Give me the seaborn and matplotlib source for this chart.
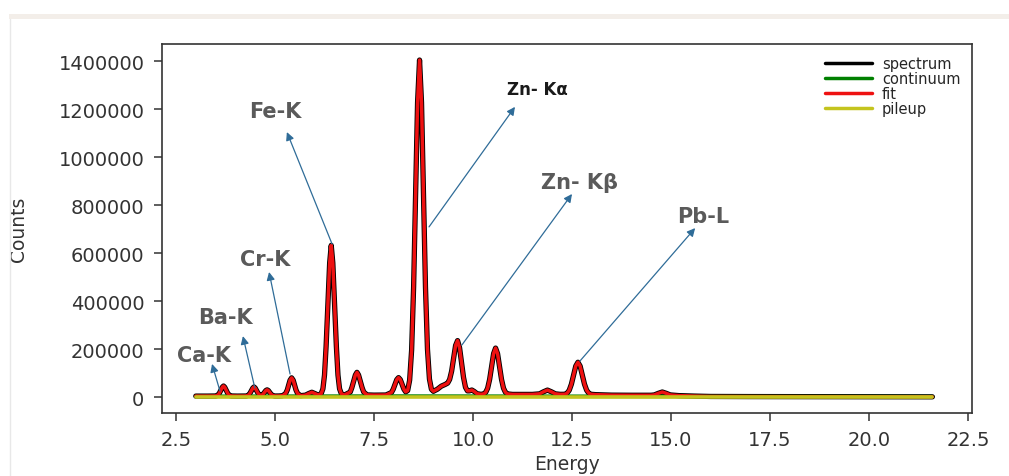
import matplotlib
matplotlib.use("Agg")
import matplotlib.pyplot as plt
import seaborn as sns
from matplotlib.patches import Rectangle
from matplotlib.lines import Line2D
from matplotlib.ticker import MultipleLocator

# spectrum / fit (keV, counts)
energy = [
    3.00, 3.30, 3.51, 3.57, 3.60, 3.635, 3.67, 3.70, 3.73, 3.765, 3.80, 3.83, 3.89,
    4.05, 4.275, 4.34, 4.37, 4.405, 4.44, 4.47, 4.50, 4.535, 4.57, 4.60, 4.64,
    4.67, 4.70, 4.735, 4.77, 4.80, 4.83, 4.865, 4.90, 4.93, 4.995,
    5.10, 5.195, 5.27, 5.31, 5.345, 5.38, 5.42, 5.46, 5.495, 5.53, 5.57, 5.645,
    5.77, 5.85, 5.93, 6.01, 6.09,
    6.165, 6.21, 6.25, 6.29, 6.335, 6.38, 6.42, 6.46, 6.505, 6.55, 6.59, 6.63, 6.675, 6.75,
    6.90, 6.94, 6.985, 7.03, 7.07, 7.11, 7.155, 7.20, 7.24, 7.325, 7.50, 7.80,
    7.94, 7.985, 8.03, 8.075, 8.12, 8.165, 8.21, 8.255, 8.30, 8.35,
    8.40, 8.45, 8.50, 8.55, 8.60, 8.65, 8.70, 8.75, 8.80, 8.85, 8.90, 8.95, 9.00,
    9.10, 9.20, 9.30, 9.36, 9.41, 9.46, 9.51, 9.56, 9.61, 9.66, 9.71, 9.76, 9.81,
    9.86, 9.91, 9.97, 10.03, 10.10, 10.20,
    10.27, 10.32, 10.37, 10.42, 10.47, 10.52, 10.57, 10.62, 10.67, 10.72, 10.77, 10.82, 10.87,
    11.00, 11.50, 11.68, 11.78, 11.88, 11.98, 12.08, 12.20,
    12.32, 12.375, 12.43, 12.485, 12.54, 12.595, 12.65, 12.705, 12.76, 12.815, 12.87, 12.925, 12.98,
    13.10, 13.50, 14.00, 14.50, 14.58, 14.68, 14.78, 14.88, 14.98,
    15.20, 15.60, 16.00, 17.00, 19.00, 21.60,
]
fit_counts = [
    5000, 5000, 5500, 10700, 18600, 30500, 42000, 47000, 42000, 30500, 18600, 10700, 5500,
    5000, 5400, 10100, 17300, 28000, 38500, 43000, 38500, 28000, 17300, 10300, 7600,
    8800, 13000, 20800, 28300, 31000, 28300, 20800, 13000, 8500, 5300,
    5500, 6800, 16150, 30400, 51500, 71000, 81000, 71000, 51500, 30400, 16150, 6800,
    8900, 15500, 21000, 15500, 9200,
    14900, 35400, 92600, 211000, 387000, 559500, 633000, 559500, 387000, 211000, 92600, 35400, 14900, 9000,
    21900, 39800, 66600, 92800, 104000, 92800, 66600, 39800, 21900, 10000, 9000, 9500,
    19700, 33400, 53700, 73500, 82000, 73500, 53800, 34000, 22700, 28000,
    71300, 196700, 458100, 847000, 1227900, 1405000, 1228000, 847000, 458000, 200500, 76000, 33300, 25000,
    33700, 46400, 53800, 59200, 74300, 108700, 162600, 215800, 236100, 207100, 145400, 83300, 41800,
    26700, 26800, 30300, 24400, 15200, 12300,
    14100, 20300, 38000, 74500, 129000, 182000, 205000, 182000, 129000, 74500, 38000, 20400, 14100,
    12000, 12000, 14400, 22900, 30000, 22900, 14400, 12300,
    12500, 16900, 29300, 54800, 92900, 130100, 146000, 130100, 92900, 54800, 29300, 16900, 12500,
    11000, 9000, 8500, 8500, 9900, 16500, 22000, 16500, 9900,
    7000, 5000, 3500, 3000, 2500, 2000,
]
spectrum_counts = fit_counts

bg_energy = [3.0, 5.0, 8.0, 11.0, 14.0, 17.0, 21.6]
continuum_counts = [4000, 4500, 5000, 4500, 4000, 3000, 2500]
pileup_counts = [1500, 1500, 1500, 1500, 1500, 1500, 1500]

peak_labels = ["Ca-K", "Ba-K", "Cr-K", "Fe-K", "Zn- K\u03b1", "Zn- K\u03b2", "Pb-L"]
peak_energy = [3.61, 4.49, 5.38, 6.44, 8.89, 9.72, 12.70]
peak_height = [26000, 39000, 97000, 639000, 710000, 218000, 151000]

# where the labels / arrow heads sit (data coords)
label_xy = [(3.21, 176000), (3.76, 335000), (4.75, 576000), (5.00, 1193000),
            (11.62, 1285000), (12.70, 897000), (15.81, 755000)]
tip_xy = [(3.41, 139000), (4.19, 255000), (4.85, 522000), (5.30, 1105000),
          (11.06, 1210000), (12.50, 847000), (15.61, 705000)]

sns.set_theme(style="ticks")
plt.rcParams['font.family'] = ['DejaVu Sans']

fig = plt.figure(figsize=(10.09, 4.77), dpi=100)
ax = fig.add_axes([0.1603, 0.1321, 0.803, 0.7736])

sns.lineplot(x=energy, y=spectrum_counts, color='#000000', linewidth=3.8, label='spectrum', ax=ax)
sns.lineplot(x=bg_energy, y=continuum_counts, color='#008000', linewidth=2.6, label='continuum', ax=ax)
sns.lineplot(x=energy, y=fit_counts, color='#ee1111', linewidth=2.5, label='fit', ax=ax)
sns.lineplot(x=bg_energy, y=pileup_counts, color='#c4c41e', linewidth=2.6, label='pileup', ax=ax)

for i, lab in enumerate(peak_labels):
    ax.annotate('', xy=tip_xy[i], xytext=(peak_energy[i], peak_height[i]),
                arrowprops=dict(arrowstyle='-|>', color='#2f6c98', lw=0.9,
                                mutation_scale=12, shrinkA=0, shrinkB=0))
    if lab.startswith("Zn- K\u03b1"):
        ax.text(*label_xy[i], lab, ha='center', va='center', fontsize=12,
                fontweight='bold', color='#1a1a1a')
    else:
        ax.text(*label_xy[i], lab, ha='center', va='center', fontsize=15,
                fontweight='bold', color='#5a5a5a')

ax.set_xlim(2.14, 22.6)
ax.set_ylim(-65400, 1472000)
ax.xaxis.set_major_locator(MultipleLocator(2.5))
ax.yaxis.set_major_locator(MultipleLocator(200000))
ax.ticklabel_format(axis='y', style='plain')

ax.set_xlabel('Energy', fontsize=13.5, color='#333333', labelpad=3)
ax.set_ylabel('Counts', fontsize=13.5, color='#333333')
ax.yaxis.set_label_coords(-0.165, 0.5)
ax.tick_params(labelsize=14, length=5.5, width=1.1, colors='#333333', pad=7)
for sp in ax.spines.values():
    sp.set_color('#333333')
    sp.set_linewidth(1.2)

leg = ax.legend(loc='upper right', frameon=False, fontsize=10.5, labelspacing=0.0,
                handlelength=3.2, handletextpad=0.7, borderaxespad=0.4)
for line in leg.get_lines():
    line.set_linewidth(2.5)

# thin beige strip + faint edge line from the screenshot
fig.add_artist(Rectangle((9 / 1009, 1 - 20 / 477), 1, 5 / 477, transform=fig.transFigure,
                         color='#f3eee9', lw=0))
fig.add_artist(Line2D([9.5 / 1009, 9.5 / 1009], [0, 1 - 20 / 477], transform=fig.transFigure,
                      color='#e8e8e8', lw=1))

fig.savefig('out.png', dpi=100, facecolor='white')
